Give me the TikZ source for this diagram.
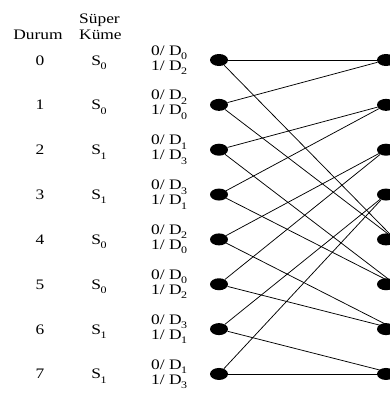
\documentclass[tikz,border=0pt]{standalone}
\usepackage{fontspec}
\setmainfont[FakeStretch=1.2]{Liberation Serif}
\usetikzlibrary{shapes.geometric}
\newcommand{\idx}[1]{\kern-0.5pt\raisebox{-0.3em}{\fontsize{10}{10}\selectfont #1}}

\begin{document}
\begin{tikzpicture}[x=1pt, y=-1pt,
  dot/.style={ellipse, fill=black, minimum width=18pt, minimum height=12pt, inner sep=0pt},
  link/.style={line width=0.75pt},
  lbl/.style={font=\fontsize{14.5}{15}\selectfont, inner sep=0pt},
  outs/.style={lbl, align=left, anchor=west}
]
  \useasboundingbox (0,0) rectangle (390,400);

  % Headers
  \node[lbl, anchor=base] (hdurum) at (38,39) {Durum};
  \node[lbl, anchor=base west] (hsuper) at (79,23) {Süper};
  \node[lbl, anchor=base west] (hkume) at (79,39) {Küme};

  % States, super sets and outputs
  \foreach \i/\s/\a/\b in {0/0/0/2, 1/0/2/0, 2/1/1/3, 3/1/3/1,
                           4/0/2/0, 5/0/0/2, 6/1/3/1, 7/1/1/3} {
    \node[dot] (L\i) at (219,60+44.85*\i) {};
    \node[dot] (R\i) at (386,60+44.85*\i) {};
    \node[lbl, anchor=base] (n\i) at (40,65+44.85*\i) {\i};
    \node[lbl, anchor=base] (s\i) at (99,65+44.85*\i) {S\idx{\s}};
    \node[outs] (o\i) at (151,60+44.85*\i) {0/ D\idx{\a}\\1/ D\idx{\b}};
  }

  % Transitions
  \foreach \i [evaluate=\i as \j using {int(\i/2)},
               evaluate=\i as \k using {int(\i/2)+4}] in {0,...,7} {
    \draw[link] (L\i) -- (R\j);
    \draw[link] (L\i) -- (R\k);
  }
\end{tikzpicture}
\end{document}
